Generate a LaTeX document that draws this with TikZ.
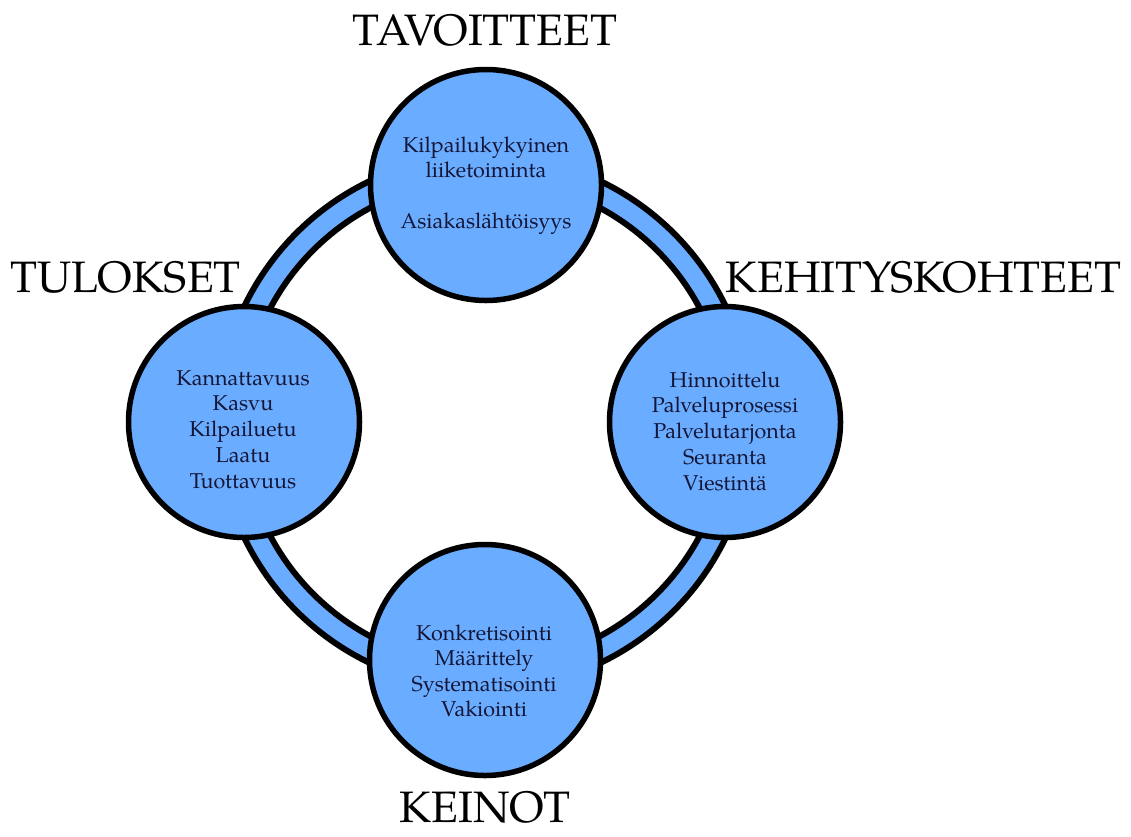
\documentclass[tikz,border=0pt]{standalone}
\usepackage{fontspec}
\setmainfont{TeX Gyre Pagella}
\definecolor{ringblue}{RGB}{106,172,255}
\definecolor{navytext}{RGB}{20,22,55}
\begin{document}
\begin{tikzpicture}[x=1pt,y=-1pt,
  bubble/.style={circle,draw=black,line width=5.5pt,fill=ringblue,minimum size=231pt,inner sep=0pt},
  inner/.style={anchor=base,font=\fontsize{21.5}{24}\selectfont,text=navytext,inner sep=0pt},
  head/.style={anchor=base,font=\fontsize{44}{48}\selectfont,text=black,inner sep=0pt}]
\useasboundingbox (0,0) rectangle (1131,836);
\fill[white] (0,0) rectangle (1131,836);
\coordinate (ctr) at (485,422);
% ring band
\draw[line width=6pt,fill=ringblue,even odd rule] (ctr) circle[radius=267pt] (ctr) circle[radius=243pt];
% circles
\node[bubble] (top) at (486,185) {};
\node[bubble] (left) at (244,422) {};
\node[bubble] (right) at (725,422) {};
\node[bubble] (bottom) at (485,660) {};
% top texts
\node[inner] (t1) at (486,152.5) {Kilpailukykyinen};
\node[inner] (t2) at (486,177.5) {liiketoiminta};
\node[inner] (t3) at (486,228.5) {Asiakaslähtöisyys};
% left texts
\node[inner] (l1) at (243,385) {Kannattavuus};
\node[inner] (l2) at (243,410.7) {Kasvu};
\node[inner] (l3) at (243,436.7) {Kilpailuetu};
\node[inner] (l4) at (243,462.3) {Laatu};
\node[inner] (l5) at (243,488.3) {Tuottavuus};
% right texts
\node[inner] (r1) at (725,387.3) {Hinnoittelu};
\node[inner] (r2) at (725,412.3) {Palveluprosessi};
\node[inner] (r3) at (725,438.3) {Palvelutarjonta};
\node[inner] (r4) at (725,464.3) {Seuranta};
\node[inner] (r5) at (725,490) {Viestintä};
% bottom texts
\node[inner] (b1) at (484,640) {Konkretisointi};
\node[inner] (b2) at (484,665.7) {Määrittely};
\node[inner] (b3) at (484,691.7) {Systematisointi};
\node[inner] (b4) at (484,716.7) {Vakiointi};
% headings
\node[head] (h1) at (485,45) {TAVOITTEET};
\node[head,anchor=base west] (h2) at (10,292) {TULOKSET};
\node[head,anchor=base west] (h3) at (725,292) {KEHITYSKOHTEET};
\node[head] (h4) at (485,822) {KEINOT};
\end{tikzpicture}
\end{document}
